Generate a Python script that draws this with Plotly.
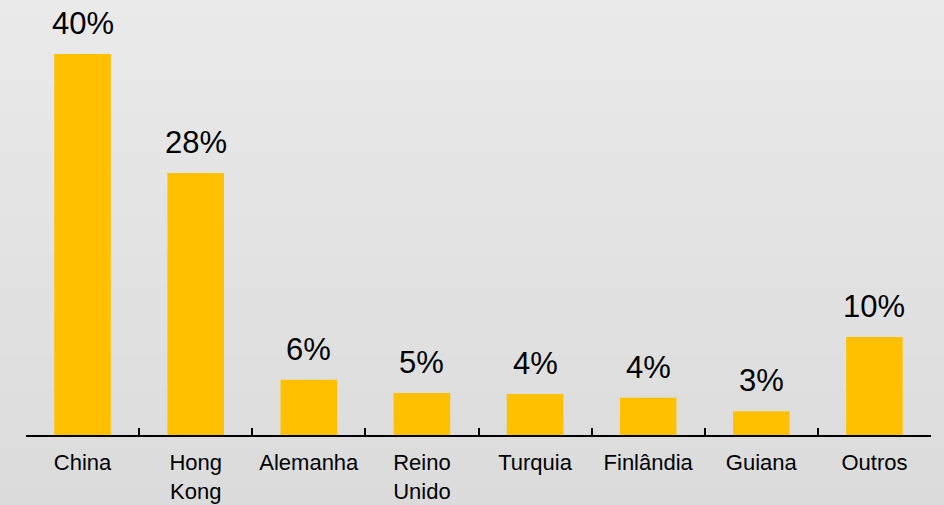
import plotly.graph_objects as go

categories = ["China", "Hong<br>Kong", "Alemanha", "Reino<br>Unido", "Turquia", "Finlândia", "Guiana", "Outros"]
values = [40.0, 27.5, 5.8, 4.4, 4.3, 3.9, 2.5, 10.3]
labels = ["40%", "28%", "6%", "5%", "4%", "4%", "3%", "10%"]

W, H = 944, 505
ml, mr, mt, mb = 26, 13, 10, 70
plot_h = H - mt - mb

fig = go.Figure()
fig.add_trace(go.Bar(x=categories, y=values, marker=dict(color="#FFC000", line=dict(width=0)),
                     width=0.5, hoverinfo="skip"))

for c, v, t in zip(categories, values, labels):
    fig.add_annotation(x=c, y=v, text=t, showarrow=False, yanchor="bottom", yshift=11,
                       font=dict(size=31, color="#000000"))

# vertical gradient background
shapes = []
n = 60
for i in range(n):
    p0 = H * i / n
    p1 = H * (i + 1) / n + 0.5
    frac = i / (n - 1)
    g = round(234 - (234 - 219) * frac)
    shapes.append(dict(type="rect", xref="paper", yref="paper", layer="below",
                       x0=-ml / (W - ml - mr), x1=1 + mr / (W - ml - mr),
                       y0=(H - mb - p1) / plot_h, y1=(H - mb - p0) / plot_h,
                       fillcolor=f"rgb({g},{g},{g})", line=dict(width=0)))

fig.update_layout(
    width=W, height=H,
    margin=dict(l=ml, r=mr, t=mt, b=mb, autoexpand=False),
    paper_bgcolor="#E3E3E3", plot_bgcolor="rgba(0,0,0,0)",
    shapes=shapes,
    showlegend=False,
    font=dict(family="Arial, Liberation Sans, sans-serif", color="#000000"),
    bargap=0.5,
)
fig.update_xaxes(showline=True, linecolor="#000000", linewidth=2, ticks="inside",
                 tickson="boundaries", ticklen=7, tickwidth=2, tickcolor="#000000",
                 tickfont=dict(size=22), showgrid=False, ticklabelstandoff=7,
                 tickangle=0, automargin=False)
fig.update_yaxes(visible=False, range=[0, 40.0 * plot_h / 381], showgrid=False, zeroline=False)

fig.write_html("out.html", config={"displayModeBar": False},
               post_script="document.body.style.margin='0';document.body.style.overflow='hidden';")
